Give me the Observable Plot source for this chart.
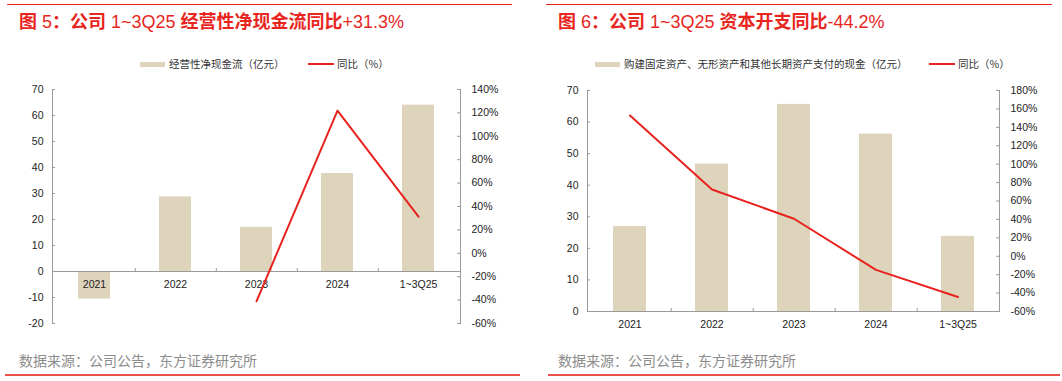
<!DOCTYPE html>
<html><head><meta charset="utf-8">
<script src="https://cdn.jsdelivr.net/npm/d3@7"></script>
<script src="https://cdn.jsdelivr.net/npm/@observablehq/plot@0.6"></script>
<style>
body{margin:0;background:#fff;}
#root{position:relative;width:1062px;height:381px;overflow:hidden;background:#fff;}
.abs{position:absolute;}
.title{font-family:"Liberation Sans","Noto Sans CJK SC",sans-serif;font-size:18px;line-height:18px;color:#E8261E;white-space:nowrap;}
.title .cjk{font-family:"Noto Sans CJK SC",sans-serif;font-weight:bold;}
.rule{height:1px;background:#E8261E;}
.legtxt{font-family:"Noto Sans CJK SC",sans-serif;font-size:10.5px;line-height:12px;color:#333;white-space:nowrap;}
.cap{font-family:"Noto Sans CJK SC",sans-serif;font-size:14px;line-height:16px;color:#8c8c8c;white-space:nowrap;}
</style>
</head><body>
<div id="root"></div>
<script>
// ---------- data ----------
const categories = ["2021", "2022", "2023", "2024", "1~3Q25"];
// 图5
const opCashFlow = [-10.6, 28.7, 17.0, 37.7, 64.0];          // 亿元
const opCashFlowYoY = [null, null, -41, 122, 31.3];           // %
const leftTicks1 = [-20, -10, 0, 10, 20, 30, 40, 50, 60, 70];
const rightTicks1 = [-60, -40, -20, 0, 20, 40, 60, 80, 100, 120, 140];
// 图6
const capex = [26.9, 46.7, 65.6, 56.2, 23.8];                 // 亿元
const capexYoY = [152.9, 72.5, 40.7, -14.8, -44.2];           // %
const leftTicks2 = [0, 10, 20, 30, 40, 50, 60, 70];
const rightTicks2 = [-60, -40, -20, 0, 20, 40, 60, 80, 100, 120, 140, 160, 180];

const titles = ["图 5：公司 1~3Q25 经营性净现金流同比+31.3%", "图 6：公司 1~3Q25 资本开支同比-44.2%"];
const barLegends = ["经营性净现金流（亿元）", "购建固定资产、无形资产和其他长期资产支付的现金（亿元）"];
const lineLegend = "同比（%）";
const source = "数据来源：公司公告，东方证券研究所";

const BAR = "#DDD4BB", RED = "#E8231F", AX = "#9a9a9a", TXT = "#222";

function makeChart({bars, yoy, leftTicks, rightTicks, width, height, ml, mr, mt, mb}) {
  const leftDomain = [leftTicks[0], leftTicks[leftTicks.length - 1]];
  const rightDomain = [rightTicks[0], rightTicks[rightTicks.length - 1]];
  const toLeft = d3.scaleLinear().domain(rightDomain).range(leftDomain);
  const data = categories.map((c, i) => ({cat: c, v: bars[i], p: yoy[i]}));
  const innerW = width - ml - mr;
  const innerH = height - mt - mb;
  const step = innerW / categories.length;
  const unitPerPx = (leftDomain[1] - leftDomain[0]) / innerH;
  return Plot.plot({
    width, height, marginLeft: ml, marginRight: mr, marginTop: mt, marginBottom: mb,
    x: {domain: categories, paddingInner: 0.6, paddingOuter: 0.3, axis: null},
    y: {domain: leftDomain, axis: null},
    style: {fontFamily: "'Liberation Sans', Arial, sans-serif", fontSize: "10.5px", color: TXT, background: "transparent", overflow: "visible"},
    marks: [
      Plot.barY(data, {x: "cat", y: "v", fill: BAR}),
      Plot.gridY(leftTicks, {stroke: AX, strokeOpacity: 1, insetRight: innerW - 3}),
      Plot.gridY(rightTicks.map(toLeft), {stroke: AX, strokeOpacity: 1, insetLeft: innerW - 3}),
      Plot.axisY({ticks: leftTicks, anchor: "left", tickSize: 0, tickPadding: 9, tickFormat: d => String(d), fill: TXT, label: null}),
      Plot.axisY({ticks: rightTicks.map(toLeft), anchor: "right", tickSize: 0, tickPadding: 11,
        tickFormat: d => `${Math.round(toLeft.invert(d))}%`, fill: TXT, label: null}),
      Plot.frame({anchor: "left", stroke: AX}),
      Plot.frame({anchor: "right", stroke: AX}),
      Plot.ruleY([0], {stroke: AX}),
      Plot.ruleX(categories.slice(0, -1), {x: d => d, dx: step / 2, y1: 0, y2: 3 * unitPerPx, stroke: AX}),
      Plot.text(categories, {x: d => d, y: 0, dy: 13, fill: TXT}),
      Plot.line(data.filter(d => d.p != null), {x: "cat", y: d => toLeft(d.p), stroke: RED, strokeWidth: 2})
    ]
  });
}

const root = document.getElementById("root");
function add(el, css) { Object.assign(el.style, css); el.classList.add("abs"); root.appendChild(el); return el; }
function div(cls, text, css) { const d = document.createElement("div"); d.className = cls; if (text) d.textContent = text; return add(d, css); }
function titleDiv(text, css) {
  const d = document.createElement("div"); d.className = "title";
  // Chinese runs in bold CJK font, Latin/digits in regular weight
  text.match(/[\u3000-\u9fff\uff00-\uffef]+|[^\u3000-\u9fff\uff00-\uffef]+/g).forEach(run => {
    const s = document.createElement("span");
    if (/[\u3000-\u9fff\uff00-\uffef]/.test(run)) s.className = "cjk";
    s.textContent = run; d.appendChild(s);
  });
  return add(d, css);
}

// panel layout
const panels = [
  {x: 0, ruleTop: [7, 512], ruleBot: [5, 520], titleX: 19, sw: 140, txt: 169, red: 308, redTxt: 337, capX: 19,
   chart: {bars: opCashFlow, yoy: opCashFlowYoY, leftTicks: leftTicks1, rightTicks: rightTicks1, width: 531, height: 266, ml: 52, mr: 71, mt: 15, mb: 17}},
  {x: 531, ruleTop: [546, 1052], ruleBot: [548, 1060], titleX: 558, sw: 595, txt: 624, red: 929, redTxt: 958, capX: 558,
   chart: {bars: capex, yoy: capexYoY, leftTicks: leftTicks2, rightTicks: rightTicks2, width: 531, height: 266, ml: 56, mr: 63, mt: 16, mb: 29}}
];

panels.forEach((p, i) => {
  div("rule", "", {left: p.ruleTop[0] + "px", top: "4px", width: (p.ruleTop[1] - p.ruleTop[0]) + "px"});
  titleDiv(titles[i], {left: p.titleX + "px", top: "11px"});
  div("", "", {left: p.sw + "px", top: "62px", width: "25px", height: "5px", background: BAR});
  div("legtxt", barLegends[i], {left: p.txt + "px", top: "58px"});
  div("", "", {left: p.red + "px", top: "63px", width: "26px", height: "2px", background: RED});
  div("legtxt", lineLegend, {left: p.redTxt + "px", top: "58px"});
  const svg = makeChart(p.chart);
  add(svg, {left: p.x + "px", top: "74px"});
  div("cap", source, {left: p.capX + "px", top: "352px"});
  div("rule", "", {left: p.ruleBot[0] + "px", top: "374px", width: (p.ruleBot[1] - p.ruleBot[0]) + "px", height: "1.5px", opacity: 0.8});
});
</script>
</body></html>
